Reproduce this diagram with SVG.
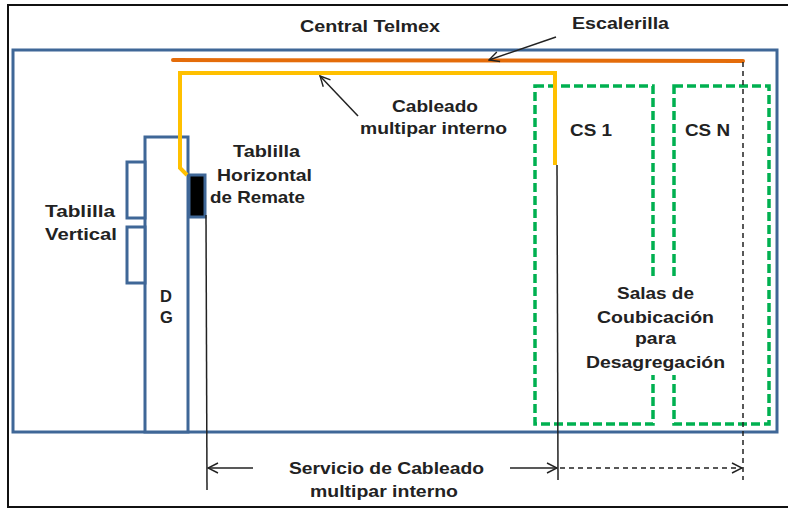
<svg xmlns="http://www.w3.org/2000/svg" width="788" height="510" viewBox="0 0 788 510">
<defs>
<marker id="open" viewBox="0 0 12 12" refX="11" refY="6" markerWidth="12" markerHeight="12" markerUnits="userSpaceOnUse" orient="auto">
<path d="M1,1 L11,6 L1,11" fill="none" stroke="#222" stroke-width="1.4"/>
</marker>
</defs>
<style>
text{font-family:"Liberation Sans",Arial,sans-serif;font-weight:bold;font-size:16.5px;fill:#222;}
.blue{fill:#fff;stroke:#3f6797;stroke-width:3;}
.green{fill:none;stroke:#00b050;stroke-width:3.5;stroke-dasharray:9 4;}
.ln{fill:none;stroke:#222;stroke-width:1.5;}
.dash{fill:none;stroke:#222;stroke-width:1.5;stroke-dasharray:5 4;}
</style>
<rect x="0" y="0" width="788" height="510" fill="#fff"/>
<path d="M788,5 L8,5 L8,507 L788,507" fill="none" stroke="#111" stroke-width="2"/>

<g id="central-telmex">
<rect class="blue" x="13" y="50" width="764" height="382"/>
<text x="300" y="32" textLength="140" lengthAdjust="spacingAndGlyphs">Central Telmex</text>
</g>

<g id="cs1">
<rect class="green" x="535" y="86" width="118" height="338"/>
<text x="570" y="136" textLength="42" lengthAdjust="spacingAndGlyphs">CS 1</text>
</g>
<g id="csn">
<rect class="green" x="674" y="86" width="95" height="338"/>
<text x="685" y="136" textLength="45" lengthAdjust="spacingAndGlyphs">CS N</text>
</g>

<g id="salas">
<rect x="588" y="280" width="136" height="95" fill="#fff"/>
<text x="617" y="299" textLength="77" lengthAdjust="spacingAndGlyphs">Salas de</text>
<text x="597" y="323" textLength="117" lengthAdjust="spacingAndGlyphs">Coubicación</text>
<text x="635" y="344" textLength="41" lengthAdjust="spacingAndGlyphs">para</text>
<text x="586" y="368" textLength="139" lengthAdjust="spacingAndGlyphs">Desagregación</text>
</g>

<g id="dg">
<rect class="blue" x="145" y="137" width="43" height="295"/>
<text x="160" y="302">D</text>
<text x="160" y="323">G</text>
</g>

<g id="tablilla-vertical">
<rect class="blue" x="127" y="162" width="18" height="56"/>
<rect class="blue" x="127" y="227" width="18" height="56"/>
<text x="45" y="217" textLength="70" lengthAdjust="spacingAndGlyphs">Tablilla</text>
<text x="45" y="240" textLength="72" lengthAdjust="spacingAndGlyphs">Vertical</text>
</g>

<g id="tablilla-horizontal">
<rect x="189" y="175" width="16" height="42" fill="#000" stroke="#3f6797" stroke-width="3"/>
<text x="233" y="157" textLength="67" lengthAdjust="spacingAndGlyphs">Tablilla</text>
<text x="217" y="181" textLength="95" lengthAdjust="spacingAndGlyphs">Horizontal</text>
<text x="210" y="203" textLength="95" lengthAdjust="spacingAndGlyphs">de Remate</text>
</g>

<g id="escalerilla">
<path d="M173,60 L743,61" fill="none" stroke="#e46c0a" stroke-width="4" stroke-linecap="round"/>
<text x="572" y="29" textLength="97" lengthAdjust="spacingAndGlyphs">Escalerilla</text>
</g>

<g id="cableado">
<path d="M187,175 L180,168 L180,73 L555,73 L555,165" fill="none" stroke="#ffc000" stroke-width="4"/>
<text x="392" y="112" textLength="86" lengthAdjust="spacingAndGlyphs">Cableado</text>
<text x="360" y="134" textLength="147" lengthAdjust="spacingAndGlyphs">multipar interno</text>
</g>

<g id="servicio">
<text x="289" y="474" textLength="195" lengthAdjust="spacingAndGlyphs">Servicio de Cableado</text>
<text x="310" y="497" textLength="148" lengthAdjust="spacingAndGlyphs">multipar interno</text>
</g>

<g id="connectors">
<line class="ln" x1="556" y1="37" x2="489" y2="60" marker-end="url(#open)"/>
<line class="ln" x1="358" y1="116" x2="320" y2="76" marker-end="url(#open)"/>
<line class="ln" x1="206" y1="215" x2="207" y2="490"/>
<line class="ln" x1="557" y1="165" x2="558" y2="480"/>
<line class="dash" x1="743" y1="62" x2="743" y2="480"/>
<line class="ln" x1="253" y1="468" x2="208" y2="468" marker-end="url(#open)"/>
<line class="ln" x1="510" y1="468" x2="557" y2="468" marker-end="url(#open)"/>
<line class="dash" x1="560" y1="468" x2="742" y2="468" marker-end="url(#open)"/>
</g>
</svg>
